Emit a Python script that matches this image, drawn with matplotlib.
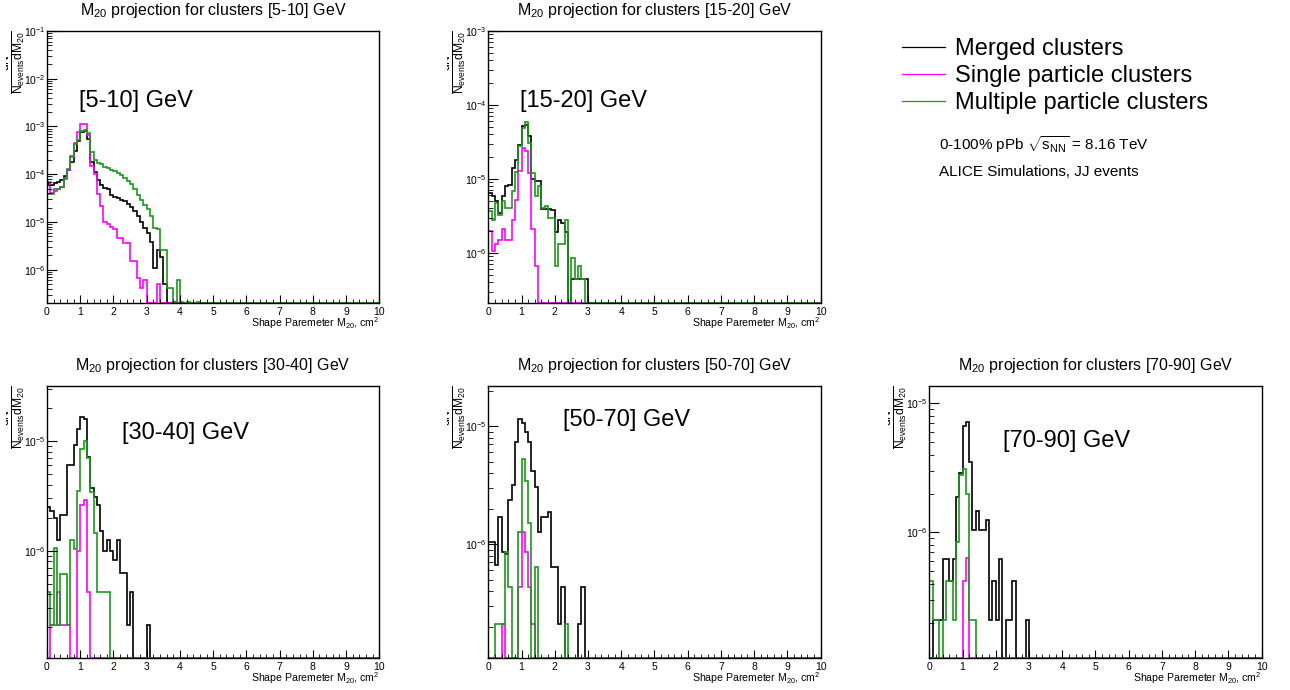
import numpy as np
import matplotlib
matplotlib.use("Agg")
import matplotlib.pyplot as plt
from matplotlib.ticker import MultipleLocator, LogLocator, NullFormatter
from matplotlib.transforms import Bbox, TransformedBbox

plt.rcParams['font.family'] = ['Liberation Sans', 'DejaVu Sans']
plt.rcParams['mathtext.fontset'] = 'custom'
plt.rcParams['mathtext.rm'] = 'Liberation Sans'
plt.rcParams['mathtext.it'] = 'Liberation Sans:italic'
plt.rcParams['mathtext.bf'] = 'Liberation Sans:bold'

# 100 bins of width 0.1 between 0 and 10; bins not listed are empty
n_bins = 100
edges = np.linspace(0, 10, n_bins + 1)

ranges = ['[5-10]', '[15-20]', '[30-40]', '[50-70]', '[70-90]']

# ---- [5-10] GeV
merged_5_10 = [6.2e-5, 6.0e-5, 6.5e-5, 7.0e-5, 7.5e-5, 9.0e-5, 1.2e-4, 1.8e-4, 3.0e-4, 5.0e-4,
               7.5e-4, 8.0e-4, 5.5e-4, 1.8e-4, 1.1e-4, 7.7e-5, 6.0e-5, 5.1e-5, 4.8e-5, 3.7e-5,
               3.3e-5, 3.2e-5, 2.9e-5, 2.7e-5, 2.4e-5, 2.1e-5, 1.7e-5, 1.3e-5, 1.0e-5, 7.5e-6,
               5.9e-6, 3.8e-6, 1.1e-6, 2.6e-6, 1.8e-6, 5.0e-7, 0, 0, 2.1e-7, 0]
single_5_10 = [7.0e-5, 4.0e-5, 4.5e-5, 5.0e-5, 5.5e-5, 8.0e-5, 1.2e-4, 2.3e-4, 4.5e-4, 7.5e-4,
               1.15e-3, 1.15e-3, 6.5e-4, 1.5e-4, 1.0e-4, 3.8e-5, 2.2e-5, 1.0e-5, 9.0e-6, 8.0e-6,
               7.0e-6, 4.5e-6, 4.5e-6, 3.7e-6, 3.7e-6, 1.5e-6, 1.5e-6, 6.7e-7, 4.2e-7, 6.0e-7,
               0, 0, 0, 5.0e-7]
multi_5_10 = [3.8e-5, 3.8e-5, 5.0e-5, 5.0e-5, 5.3e-5, 8.5e-5, 1.3e-4, 2.4e-4, 4.2e-4, 5.3e-4,
              8.0e-4, 8.5e-4, 7.4e-4, 2.9e-4, 2.0e-4, 1.7e-4, 1.6e-4, 1.4e-4, 1.35e-4, 1.25e-4,
              1.15e-4, 1.07e-4, 9.8e-5, 8.4e-5, 7.1e-5, 6.1e-5, 4.8e-5, 3.75e-5, 2.9e-5, 2.3e-5,
              1.9e-5, 1.3e-5, 7.5e-6, 7.0e-6, 2.6e-6, 2.6e-6, 4.2e-7, 4.2e-7, 2.1e-7, 6.2e-7,
              2.1e-7, 0, 2.1e-7, 0, 0, 2.1e-7]

# ---- [15-20] GeV
merged_15_20 = [6.5e-6, 5.8e-6, 5.0e-6, 3.5e-6, 5.8e-6, 8.0e-6, 8.4e-6, 1.4e-5, 1.8e-5, 2.9e-5,
                5.2e-5, 5.3e-5, 3.8e-5, 1.0e-5, 9.3e-6, 9.3e-6, 3.9e-6, 3.9e-6, 3.9e-6, 3.8e-6,
                1.9e-6, 2.8e-6, 2.5e-6, 1.9e-6, 0, 4.4e-7, 4.4e-7, 4.4e-7, 4.4e-7, 4.4e-7]
single_15_20 = [1.95e-6, 1.05e-6, 1.3e-6, 1.5e-6, 2.1e-6, 1.5e-6, 1.5e-6, 2.8e-6, 5.2e-6, 1.27e-5,
                2.6e-5, 2.4e-5, 1.2e-5, 2.1e-6, 6.6e-7]
multi_15_20 = [3.7e-6, 2.8e-6, 4.7e-6, 3.3e-6, 5.0e-6, 4.0e-6, 4.0e-6, 6.8e-6, 1.23e-5, 2.8e-5,
               4.9e-5, 5.8e-5, 3.06e-5, 1.2e-5, 5.8e-6, 8.0e-6, 4.0e-6, 4.3e-6, 3.0e-6, 3.0e-6,
               6.6e-7, 1.3e-6, 1.3e-6, 2.8e-6, 0, 8.6e-7, 4.4e-7, 6.6e-7, 4.4e-7]

# ---- [30-40] GeV
merged_30_40 = [2.5e-6, 2.3e-6, 2.0e-6, 1.25e-6, 2.1e-6, 2.1e-6, 6.0e-6, 6.0e-6, 9.2e-6, 1.3e-5,
                1.67e-5, 1.6e-5, 7.2e-6, 3.7e-6, 3.1e-6, 2.6e-6, 1.5e-6, 1.0e-6, 1.25e-6, 1.0e-6,
                8.2e-7, 1.25e-6, 6.3e-7, 6.3e-7, 2.1e-7, 4.2e-7, 0, 0, 0, 0,
                2.1e-7]
single_30_40 = [0, 2.1e-7, 2.1e-7, 4.2e-7, 2.1e-7, 2.1e-7, 2.1e-7, 0, 0, 1.0e-6,
                2.6e-6, 2.9e-6, 4.2e-7]
multi_30_40 = [4.2e-7, 2.1e-7, 1.05e-6, 2.1e-7, 6.2e-7, 6.2e-7, 2.1e-7, 1.25e-6, 1.03e-6, 3.5e-6,
               8.5e-6, 1.0e-5, 7.0e-6, 3.4e-6, 1.45e-6, 4.2e-7, 4.2e-7, 4.2e-7, 4.2e-7]

# ---- [50-70] GeV
merged_50_70 = [1.04e-6, 1.04e-6, 6.6e-7, 1.7e-6, 8.6e-7, 8.3e-7, 2.37e-6, 3.2e-6, 7.4e-6, 1.16e-5,
                1.07e-5, 9.0e-6, 7.4e-6, 4.2e-6, 3.06e-6, 1.27e-6, 1.7e-6, 1.7e-6, 1.88e-6, 6.4e-7,
                6.4e-7, 2.1e-7, 4.3e-7, 0, 0, 0, 0, 2.1e-7, 4.3e-7]
single_50_70 = [0, 0, 0, 0, 2.1e-7, 0, 0, 0, 0, 4.3e-7,
                1.27e-6, 8.6e-7, 4.3e-7, 2.1e-7]
multi_50_70 = [0, 0, 2.1e-7, 2.1e-7, 2.1e-7, 8.6e-7, 4.3e-7, 0, 0, 1.27e-6,
               5.3e-6, 3.4e-6, 1.5e-6, 0, 6.4e-7, 0, 0, 0, 0, 0,
               0, 0, 0, 2.1e-7]

# ---- [70-90] GeV
merged_70_90 = [0, 2.1e-7, 2.1e-7, 2.1e-7, 6.2e-7, 6.2e-7, 4.2e-7, 6.2e-7, 1.87e-6, 2.9e-6,
                6.7e-6, 7.2e-6, 3.5e-6, 1.05e-6, 1.47e-6, 1.05e-6, 1.05e-6, 1.25e-6, 2.1e-7, 4.2e-7,
                2.1e-7, 6.2e-7, 0, 2.1e-7, 2.1e-7, 4.2e-7, 0, 0, 0, 2.1e-7]
single_70_90 = [0, 0, 0, 0, 0, 0, 0, 0, 0, 0,
                4.2e-7, 6.3e-7]
multi_70_90 = [4.2e-7, 2.1e-7, 2.1e-7, 0, 2.1e-7, 4.2e-7, 4.2e-7, 2.1e-7, 8.4e-7, 2.8e-6,
               3.1e-6, 2.0e-6, 2.1e-7, 2.1e-7]

y_min = [2.0e-7, 2.1e-7, 1.06e-7, 1.09e-7, 1.07e-7]
y_max = [1e-1, 1e-3, 3.2e-5, 2.2e-5, 1.37e-5]

merged = [merged_5_10, merged_15_20, merged_30_40, merged_50_70, merged_70_90]
single = [single_5_10, single_15_20, single_30_40, single_50_70, single_70_90]
multi = [multi_5_10, multi_15_20, multi_30_40, multi_50_70, multi_70_90]

series_names = ['Merged clusters', 'Single particle clusters', 'Multiple particle clusters']
colors = ['black', '#ff00ff', '#1a9a1a']


def full(v):
    v = np.array(v, dtype=float)
    return np.concatenate([v, np.zeros(n_bins - len(v))])


W, H = 1290, 690
fig = plt.figure(figsize=(12.9, 6.9), dpi=100)

# axes boxes in pixels: left, top, right, bottom
boxes = [(47, 31, 379.3, 303), (488.3, 31, 820.6, 303),
         (47, 385.7, 379.3, 657.7), (488.3, 385.7, 820.6, 657.7),
         (929.3, 385.7, 1261.6, 657.7)]
label_pos = [(0.096, 0.72), (0.095, 0.72), (0.225, 0.804), (0.224, 0.852), (0.222, 0.776)]

ax_first = None
for k in range(5):
    l, t, r, b = boxes[k]
    ax = fig.add_axes([l / W, 1 - b / H, (r - l) / W, (b - t) / H])
    if ax_first is None:
        ax_first = ax
    for vals, c, name in zip([merged[k], single[k], multi[k]], colors, series_names):
        v = np.maximum(full(vals), y_min[k])
        ax.stairs(v, edges, baseline=None, color=c, lw=1.2, label=name)
    ax.set_yscale('log')
    ax.set_xlim(0, 10)
    ax.set_ylim(y_min[k], y_max[k])

    ax.set_xticks(range(11))
    ax.xaxis.set_minor_locator(MultipleLocator(0.2))
    ax.yaxis.set_major_locator(LogLocator(base=10))
    ax.yaxis.set_minor_locator(LogLocator(base=10, subs=np.arange(2, 10)))
    ax.yaxis.set_minor_formatter(NullFormatter())
    ax.tick_params(which='both', direction='in', top=False, right=False, labelsize=7.5)
    ax.tick_params(axis='x', which='major', length=5.8, pad=3)
    ax.tick_params(axis='x', which='minor', length=2.9)
    ax.tick_params(axis='y', which='major', length=7, pad=1)
    ax.tick_params(axis='y', which='minor', length=3.5)
    for s in ax.spines.values():
        s.set_linewidth(1.0)

    ax.set_title(r'M$_{20}$ projection for clusters ' + ranges[k] + ' GeV',
                 fontsize=11.5, pad=11.5)
    ax.set_xlabel(r'Shape Paremeter M$_{20}$, cm$^{2}$', fontsize=7.6, loc='right')
    ax.xaxis.set_label_coords(1.0, -0.045)
    # y title sits at the pad edge, so its numerator is cut off as in the original
    ax.set_ylabel(r'$\frac{\mathrm{dN}}{\mathrm{N_{events}dM_{20}}}$', fontsize=12.5, loc='top')
    ax.yaxis.set_label_coords(-19 / (r - l), 1.0)
    clip = TransformedBbox(Bbox.from_extents((l - 41) / W, 0, (l + 100) / W, 1), fig.transFigure)
    ax.yaxis.label.set_clip_box(clip)
    ax.yaxis.label.set_clip_on(True)

    ax.text(label_pos[k][0], label_pos[k][1], ranges[k] + ' GeV', transform=ax.transAxes,
            fontsize=17, ha='left', va='baseline')

h, lab = ax_first.get_legend_handles_labels()
leg = fig.legend(h, lab, loc='upper left', bbox_to_anchor=(902 / W, 1 - 38 / H), frameon=False,
                 fontsize=17, handlelength=1.8, handletextpad=0.45, labelspacing=0.22,
                 borderpad=0, borderaxespad=0)
for hl in leg.legend_handles:
    hl.set_linewidth(0.9)

fig.text(938.7 / W, 1 - 145 / H, r'0-100% pPb $\sqrt{\mathrm{s_{NN}}}$ = 8.16 TeV',
         fontsize=11, va='center', ha='left')
fig.text(938.7 / W, 1 - 171.5 / H, 'ALICE Simulations, JJ events',
         fontsize=11, va='center', ha='left')

fig.savefig('out.png', dpi=100)
